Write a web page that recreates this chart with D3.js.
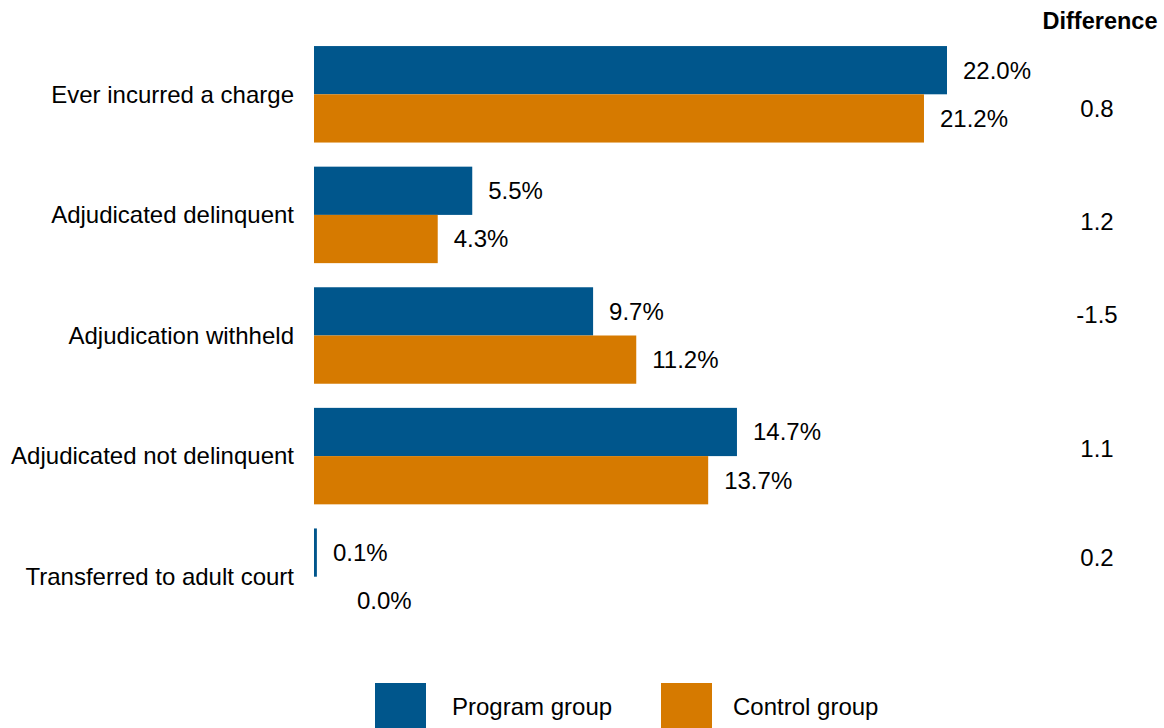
<!DOCTYPE html>
<html>
<head>
<meta charset="utf-8">
<script src="https://cdn.jsdelivr.net/npm/d3@7"></script>
<style>
  body { margin: 0; background: #fff; }
  text { font-family: Arial, "Liberation Sans", sans-serif; fill: #000; font-size: 24px; }
</style>
</head>
<body>
<div id="chart"></div>
<script>
// outcome categories, top to bottom
var categories = ["Ever incurred a charge", "Adjudicated delinquent", "Adjudication withheld",
                  "Adjudicated not delinquent", "Transferred to adult court"]
var programValues = [22.0, 5.5, 9.7, 14.7, 0.1]
var controlValues = [21.2, 4.3, 11.2, 13.7, 0.0]
var differences = ["0.8", "1.2", "-1.5", "1.1", "0.2"]
var seriesNames = ["Program group", "Control group"]

var colors = ["#00568c", "#d67a00"]
// the difference column is not quite lined up with the groups in the original
var diffNudge = [14, 7, -21, -7, -19]

var W = 1164, H = 728

var svg = d3.select("#chart").append("svg")
    .attr("width", W)
    .attr("height", H)

// x: percent -> pixels
var x = d3.scaleLinear()
  .domain([0, 22])
  .range([314, 947])

var y = d3.scaleBand()
  .domain(categories)
  .range([34, 637])
  .paddingInner(0.2)
  .paddingOuter(0.1)

var inner = d3.scaleBand()
  .domain([0, 1])
  .range([0, y.bandwidth()])

var rows = categories.map(function(c, i) {
  return {cat: c, vals: [programValues[i], controlValues[i]], diff: differences[i], nudge: diffNudge[i]}
})

var g = svg.selectAll("g.row").data(rows).enter().append("g")
    .attr("class", "row")
    .attr("transform", function(d) { return "translate(0," + y(d.cat) + ")" })

g.selectAll("rect").data(function(d) { return d.vals }).enter().append("rect")
    .attr("x", x(0))
    .attr("y", function(d, i) { return inner(i) })
    .attr("width", function(d) { return Math.max(x(d) - x(0), 0) })
    .attr("height", inner.bandwidth())
    .style("fill", function(d, i) { return colors[i] })

// zero-width label sits further out in the original
g.selectAll("text.val").data(function(d) { return d.vals }).enter().append("text")
    .attr("class", "val")
    .attr("x", function(d) { return x(d) + (d == 0 ? 43 : 16) })
    .attr("y", function(d, i) { return inner(i) + inner.bandwidth() / 2 })
    .attr("dy", "0.35em")
    .text(function(d) { return d.toFixed(1) + "%" })

// category labels
g.append("text")
    .attr("x", 294)
    .attr("y", y.bandwidth() / 2)
    .attr("dy", "0.35em")
    .attr("text-anchor", "end")
    .text(function(d) { return d.cat })

// difference column
svg.append("text")
    .attr("x", 1100)
    .attr("y", 21)
    .attr("dy", "0.35em")
    .attr("text-anchor", "middle")
    .style("font-weight", "bold")
    .style("font-size", "23.5px")
    .text("Difference")

g.append("text")
    .attr("x", 1097)
    .attr("y", function(d) { return y.bandwidth() / 2 + d.nudge })
    .attr("dy", "0.35em")
    .attr("text-anchor", "middle")
    .text(function(d) { return d.diff })

// legend
var legendX = [375, 661]
var leg = svg.selectAll("g.legend").data(seriesNames).enter().append("g")
    .attr("class", "legend")
    .attr("transform", function(d, i) { return "translate(" + legendX[i] + ",683)" })

leg.append("rect")
    .attr("width", 51)
    .attr("height", 46)
    .style("fill", function(d, i) { return colors[i] })

leg.append("text")
    .attr("x", function(d, i) { return i == 0 ? 77 : 72 })
    .attr("y", 24)
    .attr("dy", "0.35em")
    .text(function(d) { return d })
</script>
</body>
</html>
